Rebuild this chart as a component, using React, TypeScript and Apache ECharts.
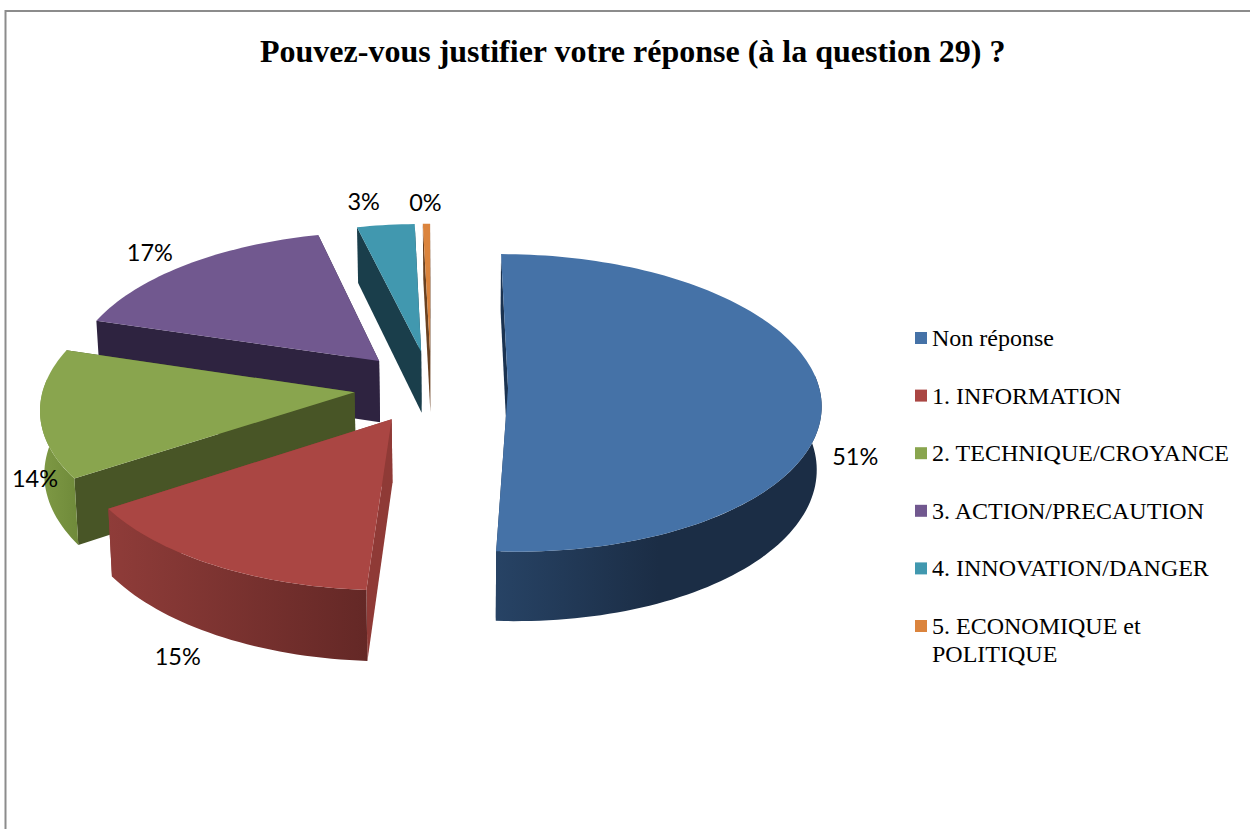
import React, { useEffect, useRef } from "react";
import * as echarts from "echarts";

const titleText = "Pouvez-vous justifier votre réponse (à la question 29) ?";
const categories = [
  "Non réponse",
  "1. INFORMATION",
  "2. TECHNIQUE/CROYANCE",
  "3. ACTION/PRECAUTION",
  "4. INNOVATION/DANGER",
  "5. ECONOMIQUE et POLITIQUE",
];
const values = [51, 14.8, 14.0, 16.55, 3.35, 0.42];

const topColors = ["#4572A7", "#AA4643", "#89A54E", "#71588F", "#4198AF", "#DB843D"];
const innerWallColors = ["#1B3351", "#8F3A36", "#485526", "#2E2340", "#1A3E4B", "#6A4120"];
const rimWallLeft = ["#274365", "#8F3C39", "#7F9A45", "#3A2C50", "#1F4A5A", "#8A5525"];
const rimWallRight = ["#1B2D45", "#642826", "#6F8A3A", "#2E2340", "#1A3E4B", "#6A4120"];
const rimWallStop = [0.5, 1, 1, 1, 1, 1];
const labelOffsets = [
  [35, 64],
  [-36, 91],
  [-5, 64],
  [-37, -13],
  [-22, -24],
  [-1, -22],
];
const drawOrder = [4, 5, 3, 2, 1, 0];

// Projection of the exploded 3D pie
const CX = 431;
const CY = 387;
const RADIUS = 311;
const EXPLODE = 77;
const TILT = 0.473;
const PERSP = 0.00032;
const DEPTH = 62.5;
const BOTTOM_VX = 470;
const BOTTOM_SCALE_LEFT = 0.99;
const BOTTOM_SCALE_RIGHT = 0.986;

const total = values.reduce((a, b) => a + b, 0);
const rad = (d: number) => (d * Math.PI) / 180;

function sliceAngles(i: number) {
  const before = values.slice(0, i).reduce((a, b) => a + b, 0);
  const a0 = (before / total) * 360;
  const a1 = ((before + values[i]) / total) * 360;
  return [a0, a1];
}

function project(gx: number, gy: number, bottom: boolean): number[] {
  const s = 1 / (1 - gy * PERSP);
  const x = CX + gx * s;
  const y = CY + gy * TILT * s;
  if (!bottom) return [x, y];
  const scale = x < BOTTOM_VX ? BOTTOM_SCALE_LEFT : BOTTOM_SCALE_RIGHT;
  return [BOTTOM_VX + (x - BOTTOM_VX) * scale, y + DEPTH * s];
}

function rimPoint(i: number, deg: number, radius: number, bottom: boolean) {
  const [a0, a1] = sliceAngles(i);
  const mid = rad((a0 + a1) / 2);
  const gx = EXPLODE * Math.sin(mid) + radius * Math.sin(rad(deg));
  const gy = -EXPLODE * Math.cos(mid) - radius * Math.cos(rad(deg));
  return project(gx, gy, bottom);
}

function arc(i: number, from: number, to: number, bottom: boolean) {
  const n = Math.max(2, Math.ceil(Math.abs(to - from) / 1.5));
  const pts: number[][] = [];
  for (let k = 0; k <= n; k++) {
    pts.push(rimPoint(i, from + ((to - from) * k) / n, RADIUS, bottom));
  }
  return pts;
}

function renderSlice(i: number) {
  const [a0, a1] = sliceAngles(i);
  const apexT = rimPoint(i, 0, 0, false);
  const apexB = rimPoint(i, 0, 0, true);
  const children: any[] = [];
  const wall = (deg: number) => ({
    type: "polygon",
    shape: { points: [apexT, rimPoint(i, deg, RADIUS, false), rimPoint(i, deg, RADIUS, true), apexB] },
    style: { fill: innerWallColors[i] },
  });
  children.push(wall(a1));
  children.push(wall(a0));
  const w0 = Math.max(a0, 85);
  const w1 = Math.min(a1, 275);
  if (w1 > w0) {
    const top = arc(i, w0, w1, false);
    const bot = arc(i, w0, w1, true).reverse();
    const pts = top.concat(bot);
    const xs = pts.map((p) => p[0]);
    children.push({
      type: "polygon",
      shape: { points: pts },
      style: {
        fill: new echarts.graphic.LinearGradient(
          Math.min(...xs), 0, Math.max(...xs), 0,
          [
            { offset: 0, color: rimWallLeft[i] },
            { offset: rimWallStop[i], color: rimWallRight[i] },
            { offset: 1, color: rimWallRight[i] },
          ],
          true
        ),
      },
    });
  }
  children.push({
    type: "polygon",
    shape: { points: [apexT].concat(arc(i, a0, a1, false)) },
    style: { fill: topColors[i] },
  });
  const mid = (a0 + a1) / 2;
  const lp = rimPoint(i, mid, RADIUS, false);
  children.push({
    type: "text",
    style: {
      x: lp[0] + labelOffsets[i][0],
      y: lp[1] + labelOffsets[i][1],
      text: Math.round((values[i] / total) * 100) + "%",
      fill: "#000000",
      fontFamily: "Lato",
      fontSize: 23.5,
      align: "center",
      verticalAlign: "middle",
    },
  });
  return { type: "group", children };
}

export default function App() {
  const ref = useRef<HTMLDivElement>(null);
  useEffect(() => {
    document.body.style.margin = "0";
    const chart = echarts.init(ref.current!, undefined, { renderer: "svg" });
    chart.setOption({
      animation: false,
      backgroundColor: "#ffffff",
      title: {
        text: titleText,
        left: 260,
        top: 35,
        padding: 0,
        textStyle: {
          fontFamily: "Liberation Serif",
          fontWeight: "bold",
          fontSize: 32,
          color: "#000000",
        },
      },
      legend: {
        orient: "vertical",
        left: 915,
        top: 326,
        padding: 0,
        itemWidth: 12,
        itemHeight: 12,
        itemGap: 33.6,
        icon: "rect",
        selectedMode: false,
        data: categories,
        formatter: (n: string) => (n === categories[5] ? "5. ECONOMIQUE et" : n),
        textStyle: {
          fontFamily: "Liberation Serif",
          fontSize: 24,
          lineHeight: 24,
          color: "#000000",
        },
      },
      graphic: [
        {
          type: "polyline",
          silent: true,
          shape: { points: [[5.5, 840], [5.5, 11], [1260, 11]] },
          style: { stroke: "#8C8C8C", lineWidth: 2, fill: "none" },
        },
        {
          type: "text",
          x: 932,
          y: 654,
          style: {
            text: "POLITIQUE",
            fontFamily: "Liberation Serif",
            fontSize: 24,
            fill: "#000000",
            verticalAlign: "middle",
          },
        },
      ],
      series: categories.map((name, i) => ({
        type: "custom",
        name,
        coordinateSystem: "none",
        silent: true,
        z: 2 + drawOrder.indexOf(i),
        itemStyle: { color: topColors[i] },
        data: [[values[i]]],
        renderItem: () => renderSlice(i),
      })),
    });
    return () => chart.dispose();
  }, []);
  return <div ref={ref} style={{ width: 1250, height: 829 }} />;
}
